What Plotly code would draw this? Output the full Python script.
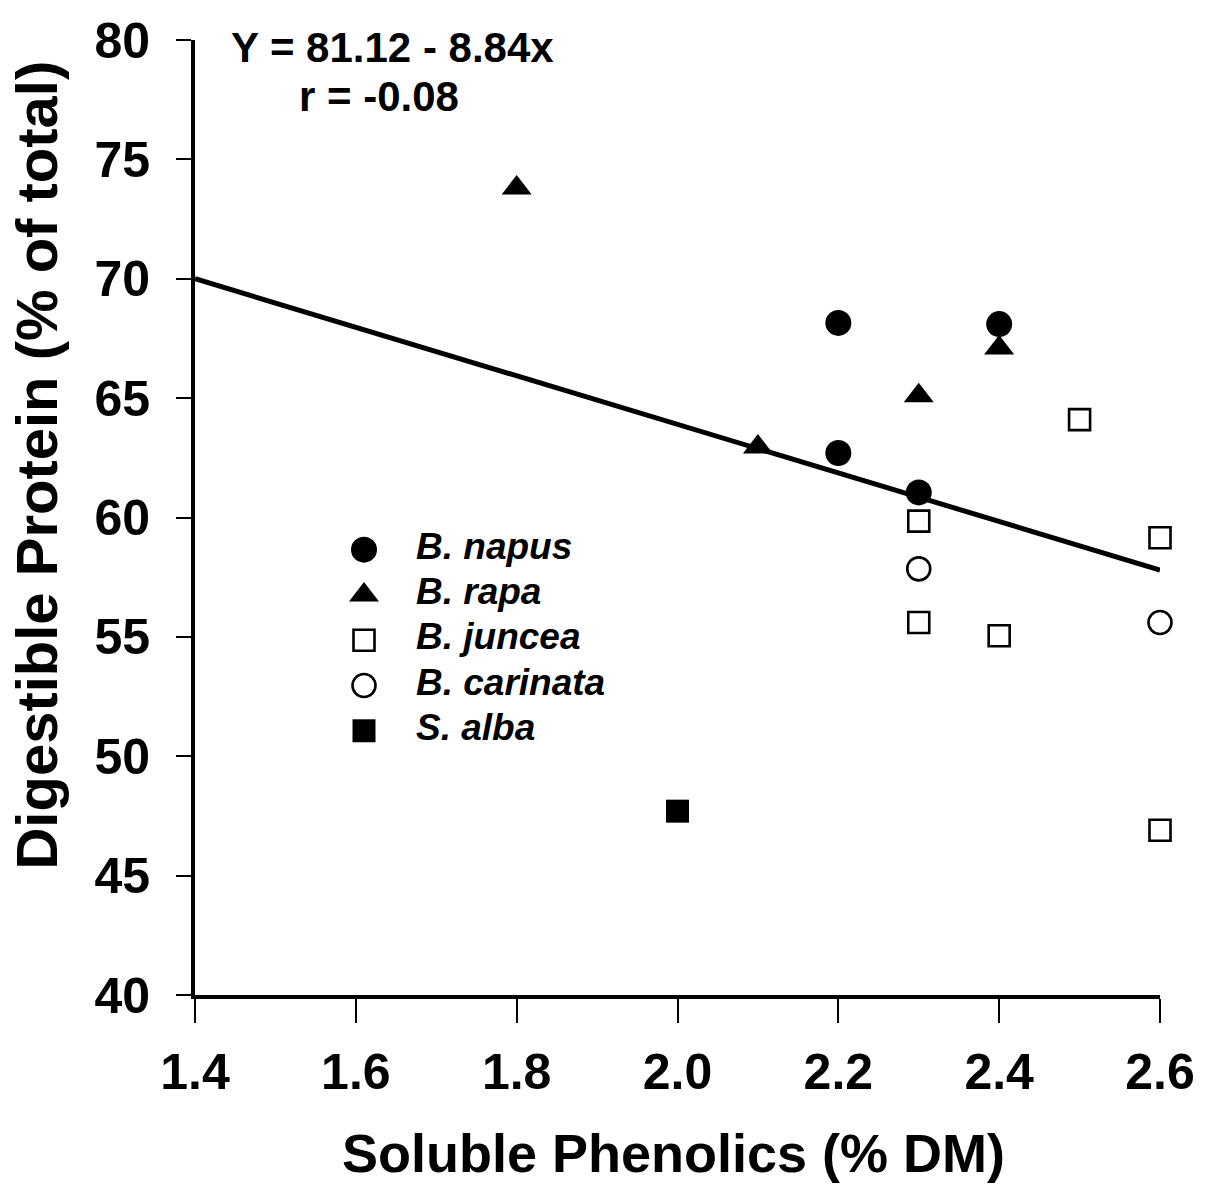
import plotly.graph_objects as go

# Soluble phenolics (% DM) vs digestible protein (% of total) by species
species = ["B. napus", "B. rapa", "B. juncea", "B. carinata", "S. alba"]

napus_x = [2.2, 2.4, 2.2, 2.3]
napus_y = [68.15, 68.1, 62.7, 61.05]

rapa_x = [1.8, 2.1, 2.3, 2.4]
rapa_y = [73.8, 62.95, 65.1, 67.1]

juncea_x = [2.3, 2.3, 2.4, 2.5, 2.6, 2.6]
juncea_y = [59.85, 55.6, 55.05, 64.1, 59.15, 46.9]

carinata_x = [2.3, 2.6]
carinata_y = [57.85, 55.6]

alba_x = [2.0]
alba_y = [47.7]

# fitted regression line end points
fit_x = [1.4, 2.6]
fit_y = [70.0, 57.8]

x_ticks = [1.4, 1.6, 1.8, 2.0, 2.2, 2.4, 2.6]
x_tick_labels = ["1.4", "1.6", "1.8", "2.0", "2.2", "2.4", "2.6"]
y_ticks = [40, 45, 50, 55, 60, 65, 70, 75, 80]

equation_text = "Y = 81.12 - 8.84x"
r_text = "r = -0.08"

FONT = "Liberation Sans, Arial, Helvetica, sans-serif"
BLACK = "#000000"

styles = {
    "B. napus": dict(symbol="circle", size=26, color=BLACK, line=dict(width=0)),
    "B. rapa": dict(symbol="triangle-up", size=26, color=BLACK, line=dict(width=0)),
    "B. juncea": dict(symbol="square-open", size=21, color=BLACK, line=dict(width=2.6, color=BLACK)),
    "B. carinata": dict(symbol="circle-open", size=23, color=BLACK, line=dict(width=2.6, color=BLACK)),
    "S. alba": dict(symbol="square", size=23, color=BLACK, line=dict(width=0)),
}
series = {
    "B. napus": (napus_x, napus_y),
    "B. rapa": (rapa_x, rapa_y),
    "B. juncea": (juncea_x, juncea_y),
    "B. carinata": (carinata_x, carinata_y),
    "S. alba": (alba_x, alba_y),
}

fig = go.Figure()

fig.add_trace(go.Scatter(
    x=fit_x, y=fit_y, mode="lines",
    line=dict(color=BLACK, width=5),
    showlegend=False, hoverinfo="skip", cliponaxis=False,
))

for name in species:
    xs, ys = series[name]
    fig.add_trace(go.Scatter(
        x=xs, y=ys, mode="markers", name=name,
        marker=styles[name], showlegend=False, cliponaxis=False,
    ))

# key drawn on its own hidden axes so the symbols keep full size
for i, name in enumerate(species):
    fig.add_trace(go.Scatter(
        x=[0], y=[i], mode="markers", marker=styles[name],
        xaxis="x2", yaxis="y2", showlegend=False, hoverinfo="skip", cliponaxis=False,
    ))
    fig.add_trace(go.Scatter(
        x=[1], y=[i], mode="text", text=[name], textposition="middle right",
        textfont=dict(family=FONT, size=37, color=BLACK, weight="bold", style="italic"),
        xaxis="x2", yaxis="y2", showlegend=False, hoverinfo="skip", cliponaxis=False,
    ))

L, R, T, B = 195, 50, 30, 196
W, H = 1210, 1191
pw, ph = W - L - R, H - T - B


def px_x(p):
    return (p - L) / pw


def px_y(p):
    return (H - B - p) / ph


fig.update_layout(
    width=W, height=H,
    margin=dict(l=L, r=R, t=T, b=B, pad=0),
    paper_bgcolor="white", plot_bgcolor="white",
    showlegend=False,
    xaxis=dict(
        range=[1.4, 2.6], tickvals=x_ticks, ticktext=x_tick_labels,
        showgrid=False, zeroline=False,
        showline=True, linecolor=BLACK, linewidth=4,
        ticks="outside", ticklen=24, tickwidth=2, tickcolor=BLACK,
        ticklabelstandoff=6,
        tickfont=dict(family=FONT, size=50, color=BLACK, weight="bold"),
    ),
    yaxis=dict(
        range=[40, 80], tickvals=y_ticks,
        showgrid=False, zeroline=False,
        showline=True, linecolor=BLACK, linewidth=4,
        ticks="outside", ticklen=15, tickwidth=2, tickcolor=BLACK,
        ticklabelstandoff=16,
        tickfont=dict(family=FONT, size=50, color=BLACK, weight="bold"),
    ),
    xaxis2=dict(
        domain=[px_x(364), px_x(416)], range=[0, 1], anchor="y2",
        visible=False, fixedrange=True,
    ),
    yaxis2=dict(
        domain=[px_y(728), px_y(545)], range=[4, 0], anchor="x2",
        visible=False, fixedrange=True,
    ),
    annotations=[
        dict(text="<b>Soluble Phenolics (% DM)</b>", xref="paper", yref="paper",
             x=px_x(673), y=px_y(1155), xanchor="center", yanchor="middle",
             showarrow=False, font=dict(family=FONT, size=54, color=BLACK)),
        dict(text="<b>Digestible Protein (% of total)</b>", xref="paper", yref="paper",
             x=px_x(37), y=px_y(460), xanchor="center", yanchor="middle", textangle=-90,
             showarrow=False, font=dict(family=FONT, size=58, color=BLACK)),
        dict(text="<b>" + equation_text + "</b>", xref="paper", yref="paper",
             x=px_x(392), y=px_y(38), xanchor="center", yanchor="middle",
             showarrow=False, font=dict(family=FONT, size=42, color=BLACK)),
        dict(text="<b>" + r_text + "</b>", xref="paper", yref="paper",
             x=px_x(379), y=px_y(87), xanchor="center", yanchor="middle",
             showarrow=False, font=dict(family=FONT, size=42, color=BLACK)),
    ],
)

fig.write_html("out.html")
